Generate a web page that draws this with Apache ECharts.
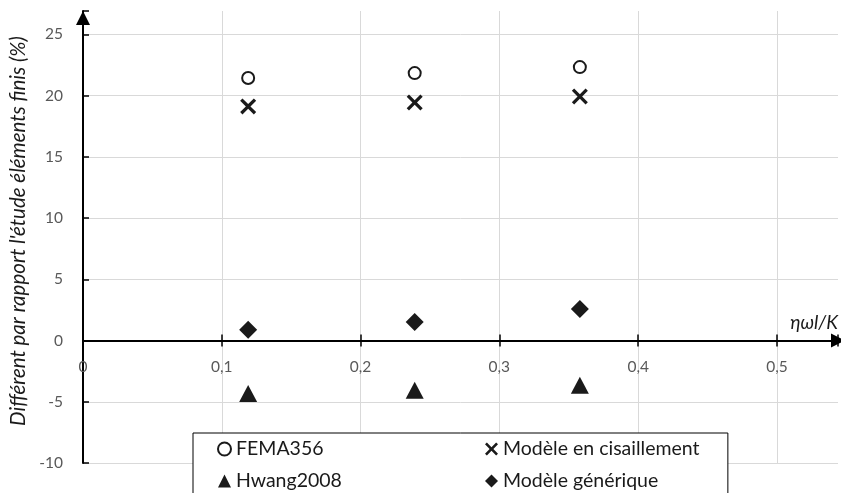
<!DOCTYPE html>
<html><head><meta charset="utf-8">
<script src="https://cdn.jsdelivr.net/npm/echarts@6/dist/echarts.min.js"></script>
<style>html,body{margin:0;padding:0;background:#fff}#c{width:841px;height:493px}</style>
</head><body><div id="c"></div>
<script>
// ---- data ----
const xValues = [0.119, 0.239, 0.358];
const fema356 = [21.43, 21.83, 22.32];
const cisaillement = [19.11, 19.43, 19.92];
const hwang2008 = [-4.33, -4.06, -3.65];
const generique = [0.88, 1.51, 2.57];
const seriesNames = ['FEMA356', 'Modèle en cisaillement', 'Hwang2008', 'Modèle générique'];
const xTickValues = [0, 0.1, 0.2, 0.3, 0.4, 0.5];
const yTickValues = [-10, -5, 0, 5, 10, 15, 20, 25];
const xAxisName = 'ηωl/K';
const yAxisName = "Différent par rapport l'étude éléments finis (%)";

// ---- chart ----
const FONT = 'Lato';
const INK = '#1a1a1a';
const X_MIN = 0, X_MAX = 0.544, Y_MIN = -10, Y_MAX = 26.9;
const GRID = {left: 83, right: 0, top: 11, bottom: 30};
const plotH = 493 - GRID.top - GRID.bottom;
const zeroFromBottom = (0 - Y_MIN) / (Y_MAX - Y_MIN) * plotH;

const crossPath = 'path://M0,2.3L2.3,0L8,5.7L13.7,0L16,2.3L10.3,8L16,13.7L13.7,16L8,10.3L2.3,16L0,13.7L5.7,8Z';
const pts = arr => xValues.map((x, i) => [x, arr[i]]);
const near = (v, list) => list.some(t => Math.abs(t - v) < 1e-6);
const fmtX = v => near(v, xTickValues) ? String(Math.round(v * 10) / 10).replace('.', ',') : '';
const fmtY = v => near(v, yTickValues) ? String(Math.round(v)) : '';

const chart = echarts.init(document.getElementById('c'), null, {renderer: 'canvas'});
const legendText = {fontFamily: FONT, fontSize: 19.5, color: INK, lineHeight: 22};
const tickFont = {fontFamily: FONT, fontSize: 15.5, color: '#595959'};
chart.setOption({
  animation: false,
  backgroundColor: '#fff',
  grid: GRID,
  xAxis: [{
    type: 'value', min: X_MIN, max: X_MAX, interval: 0.1, position: 'bottom', offset: -zeroFromBottom,
    axisLine: {show: true, onZero: false, lineStyle: {color: '#000', width: 2},
      symbol: ['none', 'triangle'], symbolSize: [14, 14], symbolOffset: [0, 0]},
    axisTick: {show: true, inside: false, length: 6, lineStyle: {color: '#000', width: 1.5}},
    axisLabel: Object.assign({margin: 18, formatter: fmtX}, tickFont),
    splitLine: {show: true, showMaxLine: false, lineStyle: {color: '#d9d9d9', width: 1}},
    name: xAxisName, nameLocation: 'end', nameGap: 0,
    nameTextStyle: {align: 'right', verticalAlign: 'bottom', fontFamily: FONT, fontStyle: 'italic',
      fontSize: 19, color: INK, padding: [0, 0, 8, 0]}
  }, {
    type: 'value', min: X_MIN, max: X_MAX, interval: 0.1, position: 'top', offset: -(plotH - zeroFromBottom),
    axisLine: {show: true, onZero: false, lineStyle: {color: '#000', width: 2}, symbol: 'none'},
    axisTick: {show: true, inside: false, length: 6, lineStyle: {color: '#000', width: 1.5}},
    axisLabel: {show: false},
    splitLine: {show: false}
  }],
  yAxis: {
    type: 'value', min: Y_MIN, max: Y_MAX, interval: 5,
    axisLine: {show: true, onZero: false, lineStyle: {color: '#000', width: 2},
      symbol: ['none', 'triangle'], symbolSize: [14, 14], symbolOffset: [0, -7]},
    axisTick: {show: true, inside: true, length: 6, lineStyle: {color: '#000', width: 1.5}},
    axisLabel: Object.assign({margin: 20, formatter: fmtY}, tickFont),
    splitLine: {show: true, showMaxLine: false, lineStyle: {color: '#d9d9d9', width: 1}},
    name: yAxisName, nameLocation: 'middle', nameRotate: 90, nameGap: 47,
    nameTextStyle: {fontFamily: FONT, fontStyle: 'italic', fontSize: 20.5, color: INK, padding: [0, 0, 0, 12]}
  },
  legend: [{
    data: [seriesNames[0], seriesNames[2]], orient: 'vertical',
    left: 193, top: 433, height: 150, padding: [5, 386, 20, 24],
    borderColor: '#000', borderWidth: 1, backgroundColor: '#fff',
    itemWidth: 13, itemHeight: 13, itemGap: 10,
    textStyle: Object.assign({width: 100}, legendText)
  }, {
    data: [seriesNames[1], seriesNames[3]], orient: 'vertical',
    left: 485, top: 438, height: 150, padding: 0,
    itemWidth: 13, itemHeight: 13, itemGap: 10,
    textStyle: legendText
  }],
  series: [
    {name: seriesNames[0], type: 'scatter', symbol: 'emptyCircle', symbolSize: 12,
      itemStyle: {color: INK, borderColor: INK, borderWidth: 2, opacity: 1}, data: pts(fema356)},
    {name: seriesNames[1], type: 'scatter', symbol: crossPath, symbolSize: 16,
      itemStyle: {color: INK, opacity: 1}, data: pts(cisaillement)},
    {name: seriesNames[2], type: 'scatter', symbol: 'triangle', symbolSize: [18, 17],
      itemStyle: {color: INK, opacity: 1}, data: pts(hwang2008)},
    {name: seriesNames[3], type: 'scatter', symbol: 'diamond', symbolSize: [18, 18],
      itemStyle: {color: INK, opacity: 1}, data: pts(generique)}
  ]
});
</script></body></html>
